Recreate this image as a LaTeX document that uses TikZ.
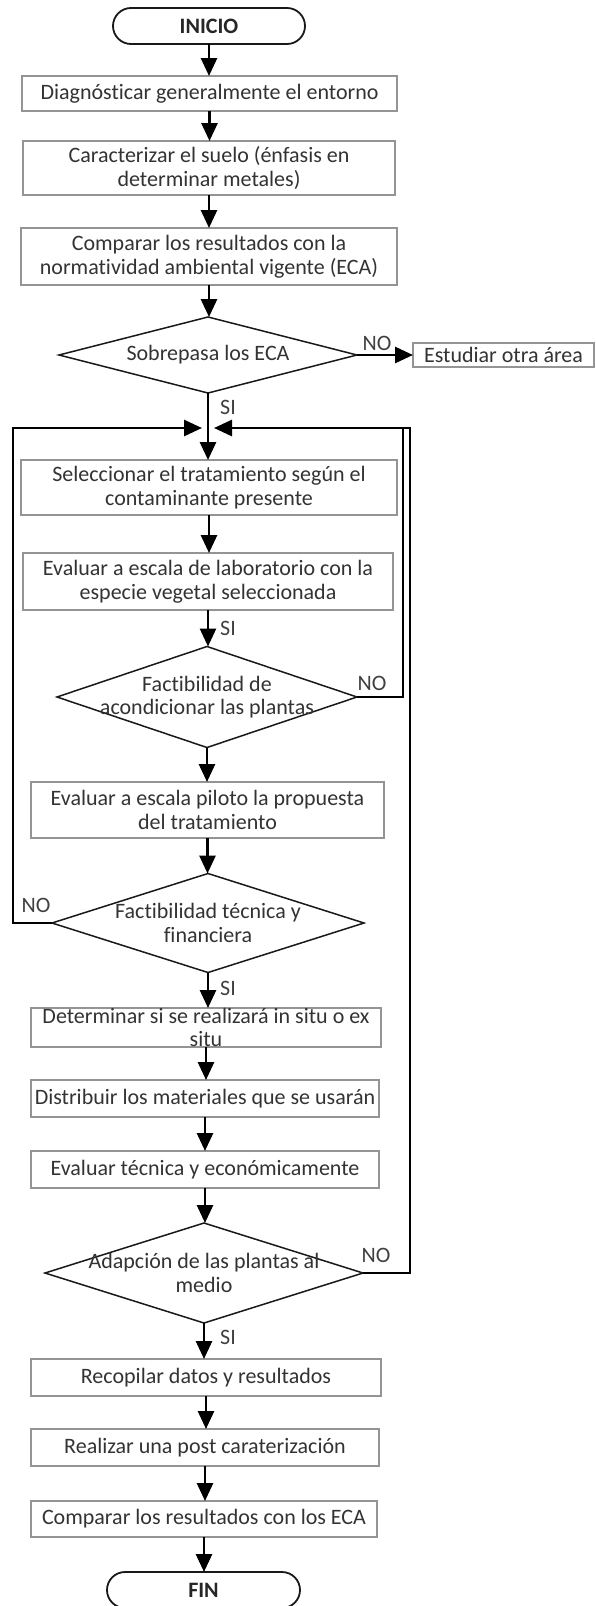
\documentclass[tikz,border=0pt]{standalone}
\usepackage{fontspec}
\setmainfont{Carlito}[Ligatures=NoCommon]
\usetikzlibrary{shapes.geometric,arrows.meta}
\newcommand\myfs{\fontsize{22}{23.5}\selectfont}
\begin{document}
\begin{tikzpicture}[x=1pt,y=-1pt,
  box/.style={draw=black!42, line width=1.4pt, fill=white, text=black!80, font=\myfs, align=center, inner sep=0pt, outer sep=0pt},
  dia/.style={draw=black!90, line width=1.5pt, diamond, inner sep=0pt, outer sep=0pt},
  dtext/.style={text=black!80, font=\myfs, align=center, inner sep=0pt},
  term/.style={draw=black!90, line width=1.8pt, rounded corners=18pt, text=black!85, font=\myfs\bfseries, inner sep=0pt, outer sep=0pt},
  arr/.style={line width=2.8pt, -{Triangle[length=18pt,width=16pt]}},
  loopline/.style={line width=2.8pt},
  lbl/.style={font=\myfs, text=black!75, inner sep=0pt}
]
\fill[white] (0,0) rectangle (595,1606);
\useasboundingbox (0,0) rectangle (595,1606);

% terminals and boxes
\node[term, minimum width=192pt, minimum height=36pt] (ini) at (209,26) {INICIO};
\node[box, minimum width=375pt, minimum height=35pt] (b1) at (209.5,93.5) {Diagnósticar generalmente el entorno};
\node[box, minimum width=372pt, minimum height=54pt] (b2) at (209,168) {Caracterizar el suelo (énfasis en\\determinar metales)};
\node[box, minimum width=376pt, minimum height=57pt] (b3) at (209,256.5) {Comparar los resultados con la\\normatividad ambiental vigente (ECA)};
\node[dia, minimum width=298pt, minimum height=76pt] (d1) at (208,355) {};
\node[dtext] (d1t) at (d1.center) {Sobrepasa los ECA};
\node[box, minimum width=181pt, minimum height=24pt] (est) at (503.5,355) {Estudiar otra área};
\node[box, minimum width=376pt, minimum height=55pt] (sel) at (209,487.5) {Seleccionar el tratamiento según el\\contaminante presente};
\node[box, minimum width=370pt, minimum height=57pt] (lab) at (208,581.5) {Evaluar a escala de laboratorio con la\\especie vegetal seleccionada};
\node[dia, minimum width=300pt, minimum height=101pt] (d2) at (207,697) {};
\node[dtext] (d2t) at (d2.center) {Factibilidad de\\acondicionar las plantas};
\node[box, minimum width=353pt, minimum height=56pt] (pil) at (207.5,810) {Evaluar a escala piloto la propuesta\\del tratamiento};
\node[dia, minimum width=312pt, minimum height=99pt] (d3) at (208,923) {};
\node[dtext] (d3t) at (d3.center) {Factibilidad técnica y\\financiera};
\node[box, minimum width=350pt, minimum height=39pt] (det) at (206,1027.5) {Determinar si se realizará in situ o ex\\situ};
\node[box, minimum width=348pt, minimum height=37pt] (dis) at (205,1098.5) {Distribuir los materiales que se usarán};
\node[box, minimum width=348pt, minimum height=37pt] (tec) at (205,1169.5) {Evaluar técnica y económicamente};
\node[dia, minimum width=318pt, minimum height=100pt] (d4) at (204,1273) {};
\node[dtext] (d4t) at (d4.center) {Adapción de las plantas al\\medio};
\node[box, minimum width=350pt, minimum height=37pt] (rec) at (206,1377.5) {Recopilar datos y resultados};
\node[box, minimum width=348pt, minimum height=37pt] (rea) at (205,1447.5) {Realizar una post caraterización};
\node[box, minimum width=346pt, minimum height=36pt] (com) at (204,1519) {Comparar los resultados con los ECA};
\node[term, minimum width=193pt, minimum height=36pt] (fin) at (203.5,1590) {FIN};

% main arrows
\draw[arr] (ini.south) -- (ini.south |- b1.north);
\draw[arr] (b1.south) -- (b1.south |- b2.north);
\draw[arr] (b2.south) -- (b2.south |- b3.north);
\draw[arr] (b3.south) -- (b3.south |- d1.north);
\draw[arr] (d1.east) -- (est.west);
\draw[arr] (d1.south) -- (d1.south |- sel.north);
\draw[arr] (sel.south) -- (sel.south |- lab.north);
\draw[arr] (lab.south) -- (lab.south |- d2.north);
\draw[arr] (d2.south) -- (d2.south |- pil.north);
\draw[arr] (pil.south) -- (pil.south |- d3.north);
\draw[arr] (d3.south) -- (d3.south |- det.north);
\draw[arr] (det.south) -- (det.south |- dis.north);
\draw[arr] (dis.south) -- (dis.south |- tec.north);
\draw[arr] (tec.south) -- (tec.south |- d4.north);
\draw[arr] (d4.south) -- (d4.south |- rec.north);
\draw[arr] (rec.south) -- (rec.south |- rea.north);
\draw[arr] (rea.south) -- (rea.south |- com.north);
\draw[arr] (com.south) -- (com.south |- fin.north);

% loop-back connectors
\coordinate (jl) at (202,428);
\coordinate (jr) at (214,428);
\coordinate (lc) at (13,428);
\coordinate (rc1) at (403,428);
\coordinate (rc2) at (410,428);
\draw[arr] (d3.west) -| (lc) -- (jl);
\draw[arr] (d2.east) -| (rc1) -- (jr);
\draw[loopline] (d4.east) -| (rc2) -- (rc1);

% labels
\node[lbl] (no1) at (377,343) {NO};
\node[lbl] (si1) at (228,407) {SI};
\node[lbl] (si2) at (228,628) {SI};
\node[lbl] (no2) at (372,683) {NO};
\node[lbl] (no3) at (36,905) {NO};
\node[lbl] (si3) at (228,988) {SI};
\node[lbl] (no4) at (376,1255) {NO};
\node[lbl] (si4) at (228,1337) {SI};
\end{tikzpicture}
\end{document}
